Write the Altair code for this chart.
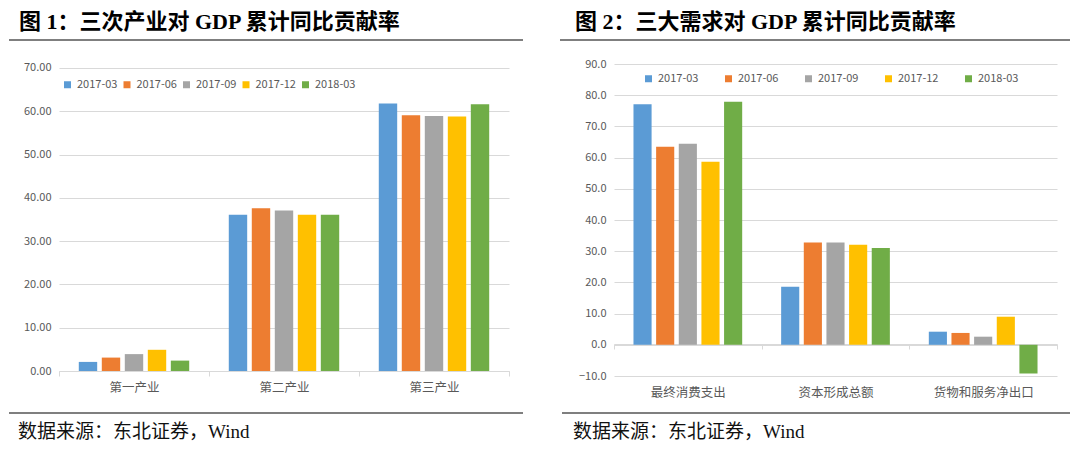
import altair as alt
import pandas as pd

# ---------------- data ----------------
periods = ["2017-03", "2017-06", "2017-09", "2017-12", "2018-03"]
colors = ["#5B9BD5", "#ED7D31", "#A5A5A5", "#FFC000", "#70AD47"]

industries = ["第一产业", "第二产业", "第三产业"]
ind_2017_03 = [2.1, 36.1, 61.8]
ind_2017_06 = [3.1, 37.6, 59.1]
ind_2017_09 = [3.9, 37.1, 58.9]
ind_2017_12 = [4.9, 36.1, 58.8]
ind_2018_03 = [2.4, 36.1, 61.6]

demands = ["最终消费支出", "资本形成总额", "货物和服务净出口"]
dem_2017_03 = [77.1, 18.6, 4.2]
dem_2017_06 = [63.5, 32.8, 3.8]
dem_2017_09 = [64.4, 32.8, 2.6]
dem_2017_12 = [58.7, 32.1, 9.0]
dem_2018_03 = [77.9, 31.0, -9.2]

left_ticks = [0, 10, 20, 30, 40, 50, 60, 70]
right_ticks = [-10, 0, 10, 20, 30, 40, 50, 60, 70, 80, 90]

title_left = ["图 1：三次产业对 GDP 累计同比贡献率"]
title_right = ["图 2：三大需求对 GDP 累计同比贡献率"]
source_text = ["数据来源：东北证券，Wind"]

LABEL_FONT = "Noto Sans CJK SC"
SERIF = "'Liberation Serif', 'Noto Sans CJK SC'"
GRID = "#D9D9D9"
LABEL_COLOR = "#595959"

left_rows = []
for p, vals in zip(periods, [ind_2017_03, ind_2017_06, ind_2017_09, ind_2017_12, ind_2018_03]):
    for c, v in zip(industries, vals):
        left_rows.append({"产业": c, "期": p, "值": v})
left_df = pd.DataFrame(left_rows)

right_rows = []
for p, vals in zip(periods, [dem_2017_03, dem_2017_06, dem_2017_09, dem_2017_12, dem_2018_03]):
    for c, v in zip(demands, vals):
        right_rows.append({"需求": c, "期": p, "值": v})
right_df = pd.DataFrame(right_rows)


def legend(lx, ly, colpad):
    return alt.Legend(
        orient="none", legendX=lx, legendY=ly, direction="horizontal", title=None,
        symbolType="square", symbolSize=49, symbolStrokeWidth=0, symbolOpacity=1,
        labelFont=LABEL_FONT, labelFontSize=11, labelColor=LABEL_COLOR,
        labelOffset=4, columnPadding=colpad, padding=0,
    )


def bars(df, field, cats, ydomain, yticks, fmt, xaxis_extra, leg):
    return alt.Chart(df).mark_bar().encode(
        x=alt.X(
            f"{field}:N", sort=cats,
            scale=alt.Scale(paddingInner=0, paddingOuter=0),
            axis=alt.Axis(
                title=None, labelAngle=0, grid=False,
                domainColor=GRID, tickColor=GRID, tickSize=5, tickBand="extent",
                labelFont=LABEL_FONT, labelFontSize=12.5, labelColor=LABEL_COLOR,
                **xaxis_extra,
            ),
        ),
        xOffset=alt.XOffset("期:N", sort=periods,
                            scale=alt.Scale(paddingInner=0.2, paddingOuter=0.86)),
        y=alt.Y(
            "值:Q",
            scale=alt.Scale(domain=ydomain, nice=False, zero=False),
            axis=alt.Axis(
                title=None, values=yticks, format=fmt, domain=False, ticks=False,
                gridColor=GRID, gridWidth=1, labelPadding=8,
                labelFont=LABEL_FONT, labelFontSize=11, labelColor=LABEL_COLOR,
            ),
        ),
        color=alt.Color("期:N", sort=periods,
                        scale=alt.Scale(domain=periods, range=colors), legend=leg),
    )


def deco(title, tx, ty, ry, rx1, rx2, by, bx1, bx2, sx, sy):
    one = pd.DataFrame({"a": [0]})
    t = alt.Chart(pd.DataFrame({"t": title})).mark_text(
        align="left", baseline="middle", font=SERIF, fontSize=22,
        fontWeight="bold", color="#000000",
    ).encode(text="t:N", x=alt.value(tx), y=alt.value(ty))
    r1 = alt.Chart(one).mark_rule(color="#000000", strokeWidth=1.2).encode(
        x=alt.value(rx1), x2=alt.value(rx2), y=alt.value(ry))
    r2 = alt.Chart(one).mark_rule(color="#000000", strokeWidth=1.2).encode(
        x=alt.value(bx1), x2=alt.value(bx2), y=alt.value(by))
    s = alt.Chart(pd.DataFrame({"t": source_text})).mark_text(
        align="left", baseline="middle", font=SERIF, fontSize=19, color="#111111",
    ).encode(text="t:N", x=alt.value(sx), y=alt.value(sy))
    return [t, r1, r2, s]


# left plot: top edge 4px above the 70 gridline so both panels share an origin
left_bars = bars(left_df, "产业", industries, [0, 70.92], left_ticks, ".2f",
                 {"labelPadding": 5}, legend(3, 15, 3.5))
left = alt.layer(
    left_bars,
    *deco(title_left, -40, -42, -24, -50, 464, 349, -50, 464, -41, 368),
).properties(width=450, height=307)

right_bars = bars(right_df, "需求", demands, [-10, 90], right_ticks, ".1f",
                  {"labelPadding": 37, "offset": -32}, legend(29, 9, 24))
right = alt.layer(
    right_bars,
    *deco(title_right, -39, -42, -24, -54, 456, 349, -52, 456, -41, 368),
).properties(width=443, height=312)

chart = alt.hconcat(left, right, spacing=35).resolve_scale(
    x="independent", y="independent", color="independent", xOffset="independent"
).resolve_legend(color="independent").configure_view(stroke=None).properties(
    padding={"top": 3, "left": 0, "right": 0, "bottom": 0}
)

chart.save("out.html", embed_options={"renderer": "svg", "actions": False})
